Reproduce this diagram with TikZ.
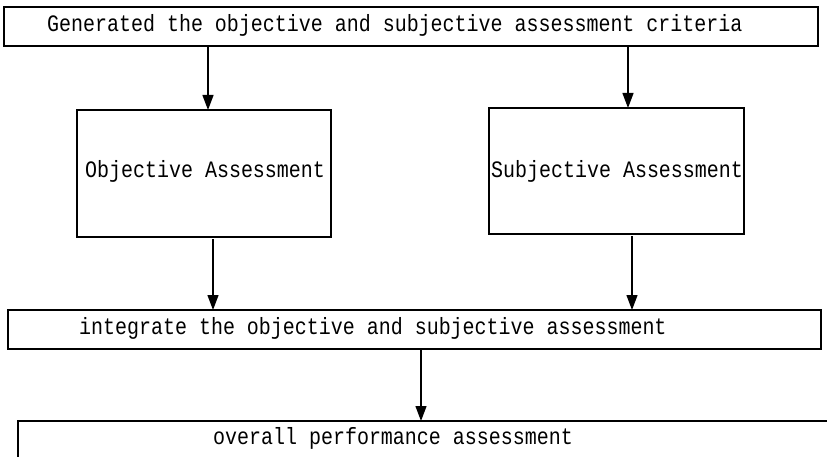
\documentclass[tikz,border=0pt]{standalone}
\usepackage{fontspec}
\setmonofont[FakeStretch=0.85]{Liberation Mono}
\usetikzlibrary{arrows.meta,calc}
\begin{document}
\begin{tikzpicture}[x=1pt,y=-1pt,
  box/.style={draw,line width=1.4pt,rectangle,inner sep=0pt,outer sep=0pt},
  lbl/.style={font=\ttfamily\fontsize{23.5}{25}\selectfont,inner sep=0pt,anchor=west},
  arr/.style={line width=1.3pt,-{Triangle[width=11pt,length=15pt]}}]
\clip (0,0) rectangle (827,457);
\fill[white] (0,0) rectangle (827,457);
% boxes
\node[box,minimum width=814pt,minimum height=39pt] (top) at (411,26.5) {};
\node[box,minimum width=254pt,minimum height=127pt] (obj) at (204,173.5) {};
\node[box,minimum width=255pt,minimum height=126pt] (sub) at (616.5,171) {};
\node[box,minimum width=813pt,minimum height=39pt] (integ) at (414.5,329.5) {};
\node[box,minimum width=832pt,minimum height=59pt] (overall) at (434,450.5) {};
% labels
\node[lbl] (t1) at (47,25) {Generated the objective and subjective assessment criteria};
\node[lbl] (t2) at (85,171) {Objective Assessment};
\node[lbl] (t3) at (491,171) {Subjective Assessment};
\node[lbl] (t4) at (79,328) {integrate the objective and subjective assessment};
\node[lbl] (t5) at (213,438) {overall performance assessment};
% arrows
\draw[arr] ($(top.south -| obj.north)+(4,0)$) -- ($(obj.north)+(4,0)$);
\draw[arr] ($(top.south -| sub.north)+(11.5,0)$) -- ($(sub.north)+(11.5,0)$);
\draw[arr] ($(obj.south)+(9,2)$) -- ($(integ.north -| obj.south)+(9,0)$);
\draw[arr] ($(sub.south)+(15.5,2)$) -- ($(integ.north -| sub.south)+(15.5,0)$);
\draw[arr] ($(integ.south)+(6.5,0)$) -- ($(overall.north -| integ.south)+(6.5,0)$);
\end{tikzpicture}
\end{document}
